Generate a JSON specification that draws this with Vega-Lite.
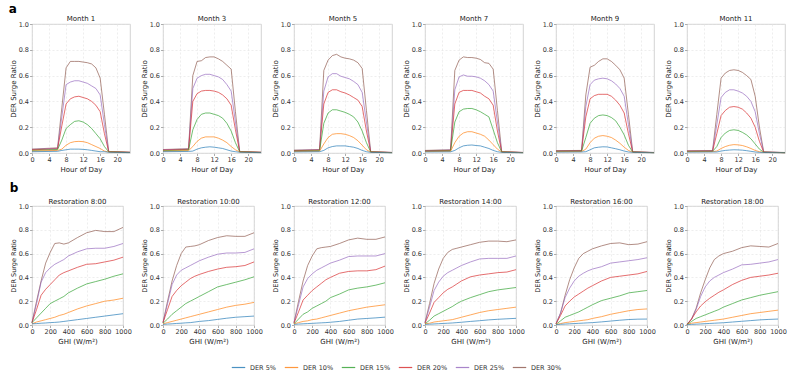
{
"$schema":"https://vega.github.io/schema/vega-lite/v6.json",
"padding":{"left":8,"top":3,"right":5,"bottom":4},
"background":"white",
"config":{
"font":"DejaVu Sans",
"view":{"stroke":"#c8c8c8","strokeWidth":0.8},
"axis":{"labelFontSize":6.5,"titleFontSize":7,"titleFontWeight":"normal","labelColor":"#333","titleColor":"#222","domain":false,"tickSize":2.5,"tickColor":"#777","tickWidth":0.6,"gridColor":"#e2e2e2","gridDash":[2,2],"gridWidth":0.6,"labelPadding":1,"titlePadding":2,"labelFlush":false,"labelOverlap":false,"labelBound":false},
"header":{"labelFontSize":7,"labelPadding":3,"labelColor":"#222"},
"title":{"fontSize":12,"fontWeight":"bold","anchor":"start","frame":"bounds","offset":0,"color":"#000"},
"legend":{"labelFontSize":6.5,"labelColor":"#333"}
},
"datasets":{
"a":[
{"m":1,"s":30,"h":0,"v":0.03},{"m":1,"s":30,"h":6,"v":0.04},{"m":1,"s":30,"h":7,"v":0.35},{"m":1,"s":30,"h":8,"v":0.66},{"m":1,"s":30,"h":9,"v":0.71},{"m":1,"s":30,"h":10,"v":0.71},{"m":1,"s":30,"h":11,"v":0.71},{"m":1,"s":30,"h":12,"v":0.705},{"m":1,"s":30,"h":13,"v":0.7},{"m":1,"s":30,"h":14,"v":0.69},{"m":1,"s":30,"h":15,"v":0.66},{"m":1,"s":30,"h":16,"v":0.58},{"m":1,"s":30,"h":17,"v":0.3},{"m":1,"s":30,"h":18,"v":0.012},{"m":1,"s":30,"h":23,"v":0.006},
{"m":1,"s":25,"h":0,"v":0.028},{"m":1,"s":25,"h":6,"v":0.036},{"m":1,"s":25,"h":7,"v":0.28},{"m":1,"s":25,"h":8,"v":0.53},{"m":1,"s":25,"h":9,"v":0.55},{"m":1,"s":25,"h":10,"v":0.56},{"m":1,"s":25,"h":11,"v":0.56},{"m":1,"s":25,"h":12,"v":0.55},{"m":1,"s":25,"h":13,"v":0.54},{"m":1,"s":25,"h":14,"v":0.52},{"m":1,"s":25,"h":15,"v":0.5},{"m":1,"s":25,"h":16,"v":0.45},{"m":1,"s":25,"h":17,"v":0.22},{"m":1,"s":25,"h":18,"v":0.011},{"m":1,"s":25,"h":23,"v":0.005},
{"m":1,"s":20,"h":0,"v":0.025},{"m":1,"s":20,"h":6,"v":0.032},{"m":1,"s":20,"h":7,"v":0.21},{"m":1,"s":20,"h":8,"v":0.38},{"m":1,"s":20,"h":9,"v":0.42},{"m":1,"s":20,"h":10,"v":0.435},{"m":1,"s":20,"h":11,"v":0.44},{"m":1,"s":20,"h":12,"v":0.43},{"m":1,"s":20,"h":13,"v":0.42},{"m":1,"s":20,"h":14,"v":0.4},{"m":1,"s":20,"h":15,"v":0.37},{"m":1,"s":20,"h":16,"v":0.32},{"m":1,"s":20,"h":17,"v":0.15},{"m":1,"s":20,"h":18,"v":0.01},{"m":1,"s":20,"h":23,"v":0.005},
{"m":1,"s":15,"h":0,"v":0.02},{"m":1,"s":15,"h":6,"v":0.027},{"m":1,"s":15,"h":7,"v":0.1},{"m":1,"s":15,"h":8,"v":0.19},{"m":1,"s":15,"h":9,"v":0.22},{"m":1,"s":15,"h":10,"v":0.245},{"m":1,"s":15,"h":11,"v":0.25},{"m":1,"s":15,"h":12,"v":0.24},{"m":1,"s":15,"h":13,"v":0.22},{"m":1,"s":15,"h":14,"v":0.19},{"m":1,"s":15,"h":15,"v":0.15},{"m":1,"s":15,"h":16,"v":0.11},{"m":1,"s":15,"h":17,"v":0.05},{"m":1,"s":15,"h":18,"v":0.009},{"m":1,"s":15,"h":23,"v":0.004},
{"m":1,"s":10,"h":0,"v":0.015},{"m":1,"s":10,"h":6,"v":0.02},{"m":1,"s":10,"h":7,"v":0.03},{"m":1,"s":10,"h":8,"v":0.06},{"m":1,"s":10,"h":9,"v":0.08},{"m":1,"s":10,"h":10,"v":0.088},{"m":1,"s":10,"h":11,"v":0.09},{"m":1,"s":10,"h":12,"v":0.088},{"m":1,"s":10,"h":13,"v":0.08},{"m":1,"s":10,"h":14,"v":0.065},{"m":1,"s":10,"h":15,"v":0.05},{"m":1,"s":10,"h":16,"v":0.035},{"m":1,"s":10,"h":17,"v":0.015},{"m":1,"s":10,"h":18,"v":0.008},{"m":1,"s":10,"h":23,"v":0.004},
{"m":1,"s":5,"h":0,"v":0.01},{"m":1,"s":5,"h":6,"v":0.013},{"m":1,"s":5,"h":7,"v":0.02},{"m":1,"s":5,"h":8,"v":0.025},{"m":1,"s":5,"h":9,"v":0.03},{"m":1,"s":5,"h":10,"v":0.03},{"m":1,"s":5,"h":11,"v":0.03},{"m":1,"s":5,"h":12,"v":0.028},{"m":1,"s":5,"h":13,"v":0.025},{"m":1,"s":5,"h":14,"v":0.02},{"m":1,"s":5,"h":15,"v":0.015},{"m":1,"s":5,"h":16,"v":0.01},{"m":1,"s":5,"h":17,"v":0.01},{"m":1,"s":5,"h":18,"v":0.006},{"m":1,"s":5,"h":23,"v":0.003},
{"m":3,"s":30,"h":0,"v":0.027},{"m":3,"s":30,"h":6,"v":0.033},{"m":3,"s":30,"h":7,"v":0.6},{"m":3,"s":30,"h":8,"v":0.71},{"m":3,"s":30,"h":9,"v":0.715},{"m":3,"s":30,"h":10,"v":0.74},{"m":3,"s":30,"h":11,"v":0.745},{"m":3,"s":30,"h":12,"v":0.745},{"m":3,"s":30,"h":13,"v":0.73},{"m":3,"s":30,"h":14,"v":0.71},{"m":3,"s":30,"h":15,"v":0.68},{"m":3,"s":30,"h":16,"v":0.65},{"m":3,"s":30,"h":17,"v":0.32},{"m":3,"s":30,"h":18,"v":0.012},{"m":3,"s":30,"h":23,"v":0.006},
{"m":3,"s":25,"h":0,"v":0.025},{"m":3,"s":25,"h":6,"v":0.031},{"m":3,"s":25,"h":7,"v":0.5},{"m":3,"s":25,"h":8,"v":0.58},{"m":3,"s":25,"h":9,"v":0.6},{"m":3,"s":25,"h":10,"v":0.61},{"m":3,"s":25,"h":11,"v":0.61},{"m":3,"s":25,"h":12,"v":0.6},{"m":3,"s":25,"h":13,"v":0.59},{"m":3,"s":25,"h":14,"v":0.57},{"m":3,"s":25,"h":15,"v":0.53},{"m":3,"s":25,"h":16,"v":0.48},{"m":3,"s":25,"h":17,"v":0.24},{"m":3,"s":25,"h":18,"v":0.011},{"m":3,"s":25,"h":23,"v":0.005},
{"m":3,"s":20,"h":0,"v":0.022},{"m":3,"s":20,"h":6,"v":0.028},{"m":3,"s":20,"h":7,"v":0.4},{"m":3,"s":20,"h":8,"v":0.46},{"m":3,"s":20,"h":9,"v":0.48},{"m":3,"s":20,"h":10,"v":0.485},{"m":3,"s":20,"h":11,"v":0.485},{"m":3,"s":20,"h":12,"v":0.48},{"m":3,"s":20,"h":13,"v":0.47},{"m":3,"s":20,"h":14,"v":0.45},{"m":3,"s":20,"h":15,"v":0.42},{"m":3,"s":20,"h":16,"v":0.37},{"m":3,"s":20,"h":17,"v":0.18},{"m":3,"s":20,"h":18,"v":0.01},{"m":3,"s":20,"h":23,"v":0.005},
{"m":3,"s":15,"h":0,"v":0.018},{"m":3,"s":15,"h":6,"v":0.023},{"m":3,"s":15,"h":7,"v":0.18},{"m":3,"s":15,"h":8,"v":0.26},{"m":3,"s":15,"h":9,"v":0.3},{"m":3,"s":15,"h":10,"v":0.31},{"m":3,"s":15,"h":11,"v":0.31},{"m":3,"s":15,"h":12,"v":0.3},{"m":3,"s":15,"h":13,"v":0.29},{"m":3,"s":15,"h":14,"v":0.27},{"m":3,"s":15,"h":15,"v":0.23},{"m":3,"s":15,"h":16,"v":0.17},{"m":3,"s":15,"h":17,"v":0.08},{"m":3,"s":15,"h":18,"v":0.009},{"m":3,"s":15,"h":23,"v":0.004},
{"m":3,"s":10,"h":0,"v":0.014},{"m":3,"s":10,"h":6,"v":0.018},{"m":3,"s":10,"h":7,"v":0.05},{"m":3,"s":10,"h":8,"v":0.09},{"m":3,"s":10,"h":9,"v":0.115},{"m":3,"s":10,"h":10,"v":0.125},{"m":3,"s":10,"h":11,"v":0.125},{"m":3,"s":10,"h":12,"v":0.125},{"m":3,"s":10,"h":13,"v":0.115},{"m":3,"s":10,"h":14,"v":0.1},{"m":3,"s":10,"h":15,"v":0.08},{"m":3,"s":10,"h":16,"v":0.05},{"m":3,"s":10,"h":17,"v":0.025},{"m":3,"s":10,"h":18,"v":0.008},{"m":3,"s":10,"h":23,"v":0.004},
{"m":3,"s":5,"h":0,"v":0.01},{"m":3,"s":5,"h":6,"v":0.012},{"m":3,"s":5,"h":7,"v":0.015},{"m":3,"s":5,"h":8,"v":0.03},{"m":3,"s":5,"h":9,"v":0.04},{"m":3,"s":5,"h":10,"v":0.045},{"m":3,"s":5,"h":11,"v":0.048},{"m":3,"s":5,"h":12,"v":0.045},{"m":3,"s":5,"h":13,"v":0.04},{"m":3,"s":5,"h":14,"v":0.035},{"m":3,"s":5,"h":15,"v":0.025},{"m":3,"s":5,"h":16,"v":0.015},{"m":3,"s":5,"h":17,"v":0.01},{"m":3,"s":5,"h":18,"v":0.006},{"m":3,"s":5,"h":23,"v":0.003},
{"m":5,"s":30,"h":0,"v":0.022},{"m":5,"s":30,"h":6,"v":0.027},{"m":5,"s":30,"h":7,"v":0.64},{"m":5,"s":30,"h":8,"v":0.72},{"m":5,"s":30,"h":9,"v":0.755},{"m":5,"s":30,"h":10,"v":0.765},{"m":5,"s":30,"h":11,"v":0.745},{"m":5,"s":30,"h":12,"v":0.735},{"m":5,"s":30,"h":13,"v":0.73},{"m":5,"s":30,"h":14,"v":0.72},{"m":5,"s":30,"h":15,"v":0.7},{"m":5,"s":30,"h":16,"v":0.655},{"m":5,"s":30,"h":17,"v":0.33},{"m":5,"s":30,"h":18,"v":0.01},{"m":5,"s":30,"h":23,"v":0.004},
{"m":5,"s":25,"h":0,"v":0.02},{"m":5,"s":25,"h":6,"v":0.025},{"m":5,"s":25,"h":7,"v":0.48},{"m":5,"s":25,"h":8,"v":0.59},{"m":5,"s":25,"h":9,"v":0.615},{"m":5,"s":25,"h":10,"v":0.615},{"m":5,"s":25,"h":11,"v":0.595},{"m":5,"s":25,"h":12,"v":0.585},{"m":5,"s":25,"h":13,"v":0.575},{"m":5,"s":25,"h":14,"v":0.555},{"m":5,"s":25,"h":15,"v":0.53},{"m":5,"s":25,"h":16,"v":0.47},{"m":5,"s":25,"h":17,"v":0.24},{"m":5,"s":25,"h":18,"v":0.01},{"m":5,"s":25,"h":23,"v":0.004},
{"m":5,"s":20,"h":0,"v":0.018},{"m":5,"s":20,"h":6,"v":0.022},{"m":5,"s":20,"h":7,"v":0.38},{"m":5,"s":20,"h":8,"v":0.47},{"m":5,"s":20,"h":9,"v":0.49},{"m":5,"s":20,"h":10,"v":0.49},{"m":5,"s":20,"h":11,"v":0.475},{"m":5,"s":20,"h":12,"v":0.465},{"m":5,"s":20,"h":13,"v":0.45},{"m":5,"s":20,"h":14,"v":0.43},{"m":5,"s":20,"h":15,"v":0.41},{"m":5,"s":20,"h":16,"v":0.36},{"m":5,"s":20,"h":17,"v":0.17},{"m":5,"s":20,"h":18,"v":0.009},{"m":5,"s":20,"h":23,"v":0.004},
{"m":5,"s":15,"h":0,"v":0.015},{"m":5,"s":15,"h":6,"v":0.018},{"m":5,"s":15,"h":7,"v":0.23},{"m":5,"s":15,"h":8,"v":0.31},{"m":5,"s":15,"h":9,"v":0.335},{"m":5,"s":15,"h":10,"v":0.335},{"m":5,"s":15,"h":11,"v":0.325},{"m":5,"s":15,"h":12,"v":0.315},{"m":5,"s":15,"h":13,"v":0.3},{"m":5,"s":15,"h":14,"v":0.28},{"m":5,"s":15,"h":15,"v":0.24},{"m":5,"s":15,"h":16,"v":0.17},{"m":5,"s":15,"h":17,"v":0.08},{"m":5,"s":15,"h":18,"v":0.008},{"m":5,"s":15,"h":23,"v":0.003},
{"m":5,"s":10,"h":0,"v":0.012},{"m":5,"s":10,"h":6,"v":0.014},{"m":5,"s":10,"h":7,"v":0.07},{"m":5,"s":10,"h":8,"v":0.12},{"m":5,"s":10,"h":9,"v":0.145},{"m":5,"s":10,"h":10,"v":0.15},{"m":5,"s":10,"h":11,"v":0.15},{"m":5,"s":10,"h":12,"v":0.145},{"m":5,"s":10,"h":13,"v":0.135},{"m":5,"s":10,"h":14,"v":0.12},{"m":5,"s":10,"h":15,"v":0.095},{"m":5,"s":10,"h":16,"v":0.06},{"m":5,"s":10,"h":17,"v":0.025},{"m":5,"s":10,"h":18,"v":0.007},{"m":5,"s":10,"h":23,"v":0.003},
{"m":5,"s":5,"h":0,"v":0.008},{"m":5,"s":5,"h":6,"v":0.01},{"m":5,"s":5,"h":7,"v":0.02},{"m":5,"s":5,"h":8,"v":0.04},{"m":5,"s":5,"h":9,"v":0.05},{"m":5,"s":5,"h":10,"v":0.055},{"m":5,"s":5,"h":11,"v":0.055},{"m":5,"s":5,"h":12,"v":0.055},{"m":5,"s":5,"h":13,"v":0.05},{"m":5,"s":5,"h":14,"v":0.045},{"m":5,"s":5,"h":15,"v":0.035},{"m":5,"s":5,"h":16,"v":0.02},{"m":5,"s":5,"h":17,"v":0.01},{"m":5,"s":5,"h":18,"v":0.005},{"m":5,"s":5,"h":23,"v":0.002},
{"m":7,"s":30,"h":0,"v":0.02},{"m":7,"s":30,"h":6,"v":0.025},{"m":7,"s":30,"h":7,"v":0.64},{"m":7,"s":30,"h":8,"v":0.72},{"m":7,"s":30,"h":9,"v":0.745},{"m":7,"s":30,"h":10,"v":0.74},{"m":7,"s":30,"h":11,"v":0.74},{"m":7,"s":30,"h":12,"v":0.735},{"m":7,"s":30,"h":13,"v":0.725},{"m":7,"s":30,"h":14,"v":0.7},{"m":7,"s":30,"h":15,"v":0.695},{"m":7,"s":30,"h":16,"v":0.65},{"m":7,"s":30,"h":17,"v":0.33},{"m":7,"s":30,"h":18,"v":0.01},{"m":7,"s":30,"h":23,"v":0.004},
{"m":7,"s":25,"h":0,"v":0.018},{"m":7,"s":25,"h":6,"v":0.023},{"m":7,"s":25,"h":7,"v":0.49},{"m":7,"s":25,"h":8,"v":0.59},{"m":7,"s":25,"h":9,"v":0.605},{"m":7,"s":25,"h":10,"v":0.595},{"m":7,"s":25,"h":11,"v":0.595},{"m":7,"s":25,"h":12,"v":0.59},{"m":7,"s":25,"h":13,"v":0.58},{"m":7,"s":25,"h":14,"v":0.56},{"m":7,"s":25,"h":15,"v":0.53},{"m":7,"s":25,"h":16,"v":0.48},{"m":7,"s":25,"h":17,"v":0.24},{"m":7,"s":25,"h":18,"v":0.01},{"m":7,"s":25,"h":23,"v":0.004},
{"m":7,"s":20,"h":0,"v":0.016},{"m":7,"s":20,"h":6,"v":0.02},{"m":7,"s":20,"h":7,"v":0.38},{"m":7,"s":20,"h":8,"v":0.47},{"m":7,"s":20,"h":9,"v":0.485},{"m":7,"s":20,"h":10,"v":0.485},{"m":7,"s":20,"h":11,"v":0.485},{"m":7,"s":20,"h":12,"v":0.475},{"m":7,"s":20,"h":13,"v":0.465},{"m":7,"s":20,"h":14,"v":0.44},{"m":7,"s":20,"h":15,"v":0.42},{"m":7,"s":20,"h":16,"v":0.37},{"m":7,"s":20,"h":17,"v":0.17},{"m":7,"s":20,"h":18,"v":0.009},{"m":7,"s":20,"h":23,"v":0.004},
{"m":7,"s":15,"h":0,"v":0.014},{"m":7,"s":15,"h":6,"v":0.017},{"m":7,"s":15,"h":7,"v":0.24},{"m":7,"s":15,"h":8,"v":0.32},{"m":7,"s":15,"h":9,"v":0.34},{"m":7,"s":15,"h":10,"v":0.345},{"m":7,"s":15,"h":11,"v":0.345},{"m":7,"s":15,"h":12,"v":0.335},{"m":7,"s":15,"h":13,"v":0.32},{"m":7,"s":15,"h":14,"v":0.3},{"m":7,"s":15,"h":15,"v":0.28},{"m":7,"s":15,"h":16,"v":0.18},{"m":7,"s":15,"h":17,"v":0.08},{"m":7,"s":15,"h":18,"v":0.008},{"m":7,"s":15,"h":23,"v":0.003},
{"m":7,"s":10,"h":0,"v":0.011},{"m":7,"s":10,"h":6,"v":0.013},{"m":7,"s":10,"h":7,"v":0.08},{"m":7,"s":10,"h":8,"v":0.13},{"m":7,"s":10,"h":9,"v":0.155},{"m":7,"s":10,"h":10,"v":0.165},{"m":7,"s":10,"h":11,"v":0.165},{"m":7,"s":10,"h":12,"v":0.155},{"m":7,"s":10,"h":13,"v":0.145},{"m":7,"s":10,"h":14,"v":0.13},{"m":7,"s":10,"h":15,"v":0.1},{"m":7,"s":10,"h":16,"v":0.065},{"m":7,"s":10,"h":17,"v":0.03},{"m":7,"s":10,"h":18,"v":0.007},{"m":7,"s":10,"h":23,"v":0.003},
{"m":7,"s":5,"h":0,"v":0.008},{"m":7,"s":5,"h":6,"v":0.009},{"m":7,"s":5,"h":7,"v":0.02},{"m":7,"s":5,"h":8,"v":0.04},{"m":7,"s":5,"h":9,"v":0.055},{"m":7,"s":5,"h":10,"v":0.06},{"m":7,"s":5,"h":11,"v":0.062},{"m":7,"s":5,"h":12,"v":0.058},{"m":7,"s":5,"h":13,"v":0.055},{"m":7,"s":5,"h":14,"v":0.045},{"m":7,"s":5,"h":15,"v":0.035},{"m":7,"s":5,"h":16,"v":0.02},{"m":7,"s":5,"h":17,"v":0.01},{"m":7,"s":5,"h":18,"v":0.005},{"m":7,"s":5,"h":23,"v":0.002},
{"m":9,"s":30,"h":0,"v":0.018},{"m":9,"s":30,"h":6,"v":0.02},{"m":9,"s":30,"h":7,"v":0.45},{"m":9,"s":30,"h":8,"v":0.665},{"m":9,"s":30,"h":9,"v":0.68},{"m":9,"s":30,"h":10,"v":0.71},{"m":9,"s":30,"h":11,"v":0.73},{"m":9,"s":30,"h":12,"v":0.73},{"m":9,"s":30,"h":13,"v":0.71},{"m":9,"s":30,"h":14,"v":0.68},{"m":9,"s":30,"h":15,"v":0.645},{"m":9,"s":30,"h":16,"v":0.58},{"m":9,"s":30,"h":17,"v":0.3},{"m":9,"s":30,"h":18,"v":0.01},{"m":9,"s":30,"h":23,"v":0.004},
{"m":9,"s":25,"h":0,"v":0.016},{"m":9,"s":25,"h":6,"v":0.018},{"m":9,"s":25,"h":7,"v":0.36},{"m":9,"s":25,"h":8,"v":0.53},{"m":9,"s":25,"h":9,"v":0.565},{"m":9,"s":25,"h":10,"v":0.575},{"m":9,"s":25,"h":11,"v":0.58},{"m":9,"s":25,"h":12,"v":0.575},{"m":9,"s":25,"h":13,"v":0.56},{"m":9,"s":25,"h":14,"v":0.535},{"m":9,"s":25,"h":15,"v":0.5},{"m":9,"s":25,"h":16,"v":0.44},{"m":9,"s":25,"h":17,"v":0.22},{"m":9,"s":25,"h":18,"v":0.009},{"m":9,"s":25,"h":23,"v":0.004},
{"m":9,"s":20,"h":0,"v":0.015},{"m":9,"s":20,"h":6,"v":0.017},{"m":9,"s":20,"h":7,"v":0.28},{"m":9,"s":20,"h":8,"v":0.42},{"m":9,"s":20,"h":9,"v":0.445},{"m":9,"s":20,"h":10,"v":0.455},{"m":9,"s":20,"h":11,"v":0.455},{"m":9,"s":20,"h":12,"v":0.455},{"m":9,"s":20,"h":13,"v":0.44},{"m":9,"s":20,"h":14,"v":0.41},{"m":9,"s":20,"h":15,"v":0.37},{"m":9,"s":20,"h":16,"v":0.31},{"m":9,"s":20,"h":17,"v":0.15},{"m":9,"s":20,"h":18,"v":0.008},{"m":9,"s":20,"h":23,"v":0.003},
{"m":9,"s":15,"h":0,"v":0.013},{"m":9,"s":15,"h":6,"v":0.014},{"m":9,"s":15,"h":7,"v":0.12},{"m":9,"s":15,"h":8,"v":0.23},{"m":9,"s":15,"h":9,"v":0.27},{"m":9,"s":15,"h":10,"v":0.29},{"m":9,"s":15,"h":11,"v":0.295},{"m":9,"s":15,"h":12,"v":0.29},{"m":9,"s":15,"h":13,"v":0.275},{"m":9,"s":15,"h":14,"v":0.25},{"m":9,"s":15,"h":15,"v":0.2},{"m":9,"s":15,"h":16,"v":0.14},{"m":9,"s":15,"h":17,"v":0.06},{"m":9,"s":15,"h":18,"v":0.007},{"m":9,"s":15,"h":23,"v":0.003},
{"m":9,"s":10,"h":0,"v":0.01},{"m":9,"s":10,"h":6,"v":0.011},{"m":9,"s":10,"h":7,"v":0.03},{"m":9,"s":10,"h":8,"v":0.08},{"m":9,"s":10,"h":9,"v":0.115},{"m":9,"s":10,"h":10,"v":0.13},{"m":9,"s":10,"h":11,"v":0.135},{"m":9,"s":10,"h":12,"v":0.13},{"m":9,"s":10,"h":13,"v":0.12},{"m":9,"s":10,"h":14,"v":0.1},{"m":9,"s":10,"h":15,"v":0.075},{"m":9,"s":10,"h":16,"v":0.045},{"m":9,"s":10,"h":17,"v":0.02},{"m":9,"s":10,"h":18,"v":0.006},{"m":9,"s":10,"h":23,"v":0.003},
{"m":9,"s":5,"h":0,"v":0.007},{"m":9,"s":5,"h":6,"v":0.008},{"m":9,"s":5,"h":7,"v":0.01},{"m":9,"s":5,"h":8,"v":0.025},{"m":9,"s":5,"h":9,"v":0.04},{"m":9,"s":5,"h":10,"v":0.045},{"m":9,"s":5,"h":11,"v":0.048},{"m":9,"s":5,"h":12,"v":0.047},{"m":9,"s":5,"h":13,"v":0.04},{"m":9,"s":5,"h":14,"v":0.033},{"m":9,"s":5,"h":15,"v":0.025},{"m":9,"s":5,"h":16,"v":0.015},{"m":9,"s":5,"h":17,"v":0.008},{"m":9,"s":5,"h":18,"v":0.005},{"m":9,"s":5,"h":23,"v":0.002},
{"m":11,"s":30,"h":0,"v":0.017},{"m":11,"s":30,"h":6,"v":0.019},{"m":11,"s":30,"h":7,"v":0.3},{"m":11,"s":30,"h":8,"v":0.58},{"m":11,"s":30,"h":9,"v":0.62},{"m":11,"s":30,"h":10,"v":0.64},{"m":11,"s":30,"h":11,"v":0.645},{"m":11,"s":30,"h":12,"v":0.64},{"m":11,"s":30,"h":13,"v":0.625},{"m":11,"s":30,"h":14,"v":0.6},{"m":11,"s":30,"h":15,"v":0.57},{"m":11,"s":30,"h":16,"v":0.44},{"m":11,"s":30,"h":17,"v":0.2},{"m":11,"s":30,"h":18,"v":0.008},{"m":11,"s":30,"h":23,"v":0.004},
{"m":11,"s":25,"h":0,"v":0.015},{"m":11,"s":25,"h":6,"v":0.017},{"m":11,"s":25,"h":7,"v":0.22},{"m":11,"s":25,"h":8,"v":0.43},{"m":11,"s":25,"h":9,"v":0.47},{"m":11,"s":25,"h":10,"v":0.49},{"m":11,"s":25,"h":11,"v":0.49},{"m":11,"s":25,"h":12,"v":0.48},{"m":11,"s":25,"h":13,"v":0.465},{"m":11,"s":25,"h":14,"v":0.44},{"m":11,"s":25,"h":15,"v":0.4},{"m":11,"s":25,"h":16,"v":0.32},{"m":11,"s":25,"h":17,"v":0.15},{"m":11,"s":25,"h":18,"v":0.008},{"m":11,"s":25,"h":23,"v":0.003},
{"m":11,"s":20,"h":0,"v":0.014},{"m":11,"s":20,"h":6,"v":0.015},{"m":11,"s":20,"h":7,"v":0.15},{"m":11,"s":20,"h":8,"v":0.29},{"m":11,"s":20,"h":9,"v":0.33},{"m":11,"s":20,"h":10,"v":0.355},{"m":11,"s":20,"h":11,"v":0.36},{"m":11,"s":20,"h":12,"v":0.355},{"m":11,"s":20,"h":13,"v":0.34},{"m":11,"s":20,"h":14,"v":0.31},{"m":11,"s":20,"h":15,"v":0.27},{"m":11,"s":20,"h":16,"v":0.2},{"m":11,"s":20,"h":17,"v":0.09},{"m":11,"s":20,"h":18,"v":0.007},{"m":11,"s":20,"h":23,"v":0.003},
{"m":11,"s":15,"h":0,"v":0.012},{"m":11,"s":15,"h":6,"v":0.013},{"m":11,"s":15,"h":7,"v":0.05},{"m":11,"s":15,"h":8,"v":0.12},{"m":11,"s":15,"h":9,"v":0.155},{"m":11,"s":15,"h":10,"v":0.175},{"m":11,"s":15,"h":11,"v":0.18},{"m":11,"s":15,"h":12,"v":0.175},{"m":11,"s":15,"h":13,"v":0.16},{"m":11,"s":15,"h":14,"v":0.14},{"m":11,"s":15,"h":15,"v":0.11},{"m":11,"s":15,"h":16,"v":0.07},{"m":11,"s":15,"h":17,"v":0.03},{"m":11,"s":15,"h":18,"v":0.006},{"m":11,"s":15,"h":23,"v":0.003},
{"m":11,"s":10,"h":0,"v":0.01},{"m":11,"s":10,"h":6,"v":0.011},{"m":11,"s":10,"h":7,"v":0.015},{"m":11,"s":10,"h":8,"v":0.035},{"m":11,"s":10,"h":9,"v":0.05},{"m":11,"s":10,"h":10,"v":0.06},{"m":11,"s":10,"h":11,"v":0.065},{"m":11,"s":10,"h":12,"v":0.063},{"m":11,"s":10,"h":13,"v":0.058},{"m":11,"s":10,"h":14,"v":0.048},{"m":11,"s":10,"h":15,"v":0.035},{"m":11,"s":10,"h":16,"v":0.02},{"m":11,"s":10,"h":17,"v":0.01},{"m":11,"s":10,"h":18,"v":0.005},{"m":11,"s":10,"h":23,"v":0.002},
{"m":11,"s":5,"h":0,"v":0.007},{"m":11,"s":5,"h":6,"v":0.008},{"m":11,"s":5,"h":7,"v":0.008},{"m":11,"s":5,"h":8,"v":0.015},{"m":11,"s":5,"h":9,"v":0.02},{"m":11,"s":5,"h":10,"v":0.023},{"m":11,"s":5,"h":11,"v":0.025},{"m":11,"s":5,"h":12,"v":0.024},{"m":11,"s":5,"h":13,"v":0.022},{"m":11,"s":5,"h":14,"v":0.018},{"m":11,"s":5,"h":15,"v":0.013},{"m":11,"s":5,"h":16,"v":0.008},{"m":11,"s":5,"h":17,"v":0.005},{"m":11,"s":5,"h":18,"v":0.004},{"m":11,"s":5,"h":23,"v":0.002}
],
"b":[
{"r":8,"s":30,"g":0,"v":0.02},{"r":8,"s":30,"g":50,"v":0.2},{"r":8,"s":30,"g":100,"v":0.37},{"r":8,"s":30,"g":150,"v":0.52},{"r":8,"s":30,"g":200,"v":0.61},{"r":8,"s":30,"g":250,"v":0.685},{"r":8,"s":30,"g":300,"v":0.69},{"r":8,"s":30,"g":350,"v":0.68},{"r":8,"s":30,"g":400,"v":0.69},{"r":8,"s":30,"g":500,"v":0.735},{"r":8,"s":30,"g":600,"v":0.775},{"r":8,"s":30,"g":700,"v":0.795},{"r":8,"s":30,"g":800,"v":0.785},{"r":8,"s":30,"g":900,"v":0.785},{"r":8,"s":30,"g":1000,"v":0.82},
{"r":8,"s":25,"g":0,"v":0.02},{"r":8,"s":25,"g":50,"v":0.18},{"r":8,"s":25,"g":100,"v":0.36},{"r":8,"s":25,"g":150,"v":0.44},{"r":8,"s":25,"g":200,"v":0.48},{"r":8,"s":25,"g":250,"v":0.51},{"r":8,"s":25,"g":300,"v":0.53},{"r":8,"s":25,"g":350,"v":0.55},{"r":8,"s":25,"g":400,"v":0.58},{"r":8,"s":25,"g":500,"v":0.615},{"r":8,"s":25,"g":600,"v":0.64},{"r":8,"s":25,"g":700,"v":0.645},{"r":8,"s":25,"g":800,"v":0.645},{"r":8,"s":25,"g":900,"v":0.66},{"r":8,"s":25,"g":1000,"v":0.685},
{"r":8,"s":20,"g":0,"v":0.02},{"r":8,"s":20,"g":50,"v":0.13},{"r":8,"s":20,"g":100,"v":0.25},{"r":8,"s":20,"g":150,"v":0.3},{"r":8,"s":20,"g":200,"v":0.34},{"r":8,"s":20,"g":250,"v":0.38},{"r":8,"s":20,"g":300,"v":0.42},{"r":8,"s":20,"g":350,"v":0.44},{"r":8,"s":20,"g":400,"v":0.455},{"r":8,"s":20,"g":500,"v":0.485},{"r":8,"s":20,"g":600,"v":0.51},{"r":8,"s":20,"g":700,"v":0.515},{"r":8,"s":20,"g":800,"v":0.53},{"r":8,"s":20,"g":900,"v":0.545},{"r":8,"s":20,"g":1000,"v":0.57},
{"r":8,"s":15,"g":0,"v":0.02},{"r":8,"s":15,"g":50,"v":0.06},{"r":8,"s":15,"g":100,"v":0.1},{"r":8,"s":15,"g":150,"v":0.14},{"r":8,"s":15,"g":200,"v":0.18},{"r":8,"s":15,"g":250,"v":0.2},{"r":8,"s":15,"g":300,"v":0.22},{"r":8,"s":15,"g":350,"v":0.24},{"r":8,"s":15,"g":400,"v":0.27},{"r":8,"s":15,"g":500,"v":0.31},{"r":8,"s":15,"g":600,"v":0.345},{"r":8,"s":15,"g":700,"v":0.365},{"r":8,"s":15,"g":800,"v":0.385},{"r":8,"s":15,"g":900,"v":0.41},{"r":8,"s":15,"g":1000,"v":0.43},
{"r":8,"s":10,"g":0,"v":0.01},{"r":8,"s":10,"g":50,"v":0.025},{"r":8,"s":10,"g":100,"v":0.035},{"r":8,"s":10,"g":150,"v":0.045},{"r":8,"s":10,"g":200,"v":0.055},{"r":8,"s":10,"g":250,"v":0.065},{"r":8,"s":10,"g":300,"v":0.08},{"r":8,"s":10,"g":350,"v":0.09},{"r":8,"s":10,"g":400,"v":0.105},{"r":8,"s":10,"g":500,"v":0.135},{"r":8,"s":10,"g":600,"v":0.16},{"r":8,"s":10,"g":700,"v":0.18},{"r":8,"s":10,"g":800,"v":0.2},{"r":8,"s":10,"g":900,"v":0.21},{"r":8,"s":10,"g":1000,"v":0.225},
{"r":8,"s":5,"g":0,"v":0.01},{"r":8,"s":5,"g":50,"v":0.012},{"r":8,"s":5,"g":100,"v":0.015},{"r":8,"s":5,"g":150,"v":0.017},{"r":8,"s":5,"g":200,"v":0.02},{"r":8,"s":5,"g":250,"v":0.022},{"r":8,"s":5,"g":300,"v":0.025},{"r":8,"s":5,"g":350,"v":0.03},{"r":8,"s":5,"g":400,"v":0.035},{"r":8,"s":5,"g":500,"v":0.045},{"r":8,"s":5,"g":600,"v":0.055},{"r":8,"s":5,"g":700,"v":0.065},{"r":8,"s":5,"g":800,"v":0.075},{"r":8,"s":5,"g":900,"v":0.085},{"r":8,"s":5,"g":1000,"v":0.095},
{"r":10,"s":30,"g":0,"v":0.02},{"r":10,"s":30,"g":50,"v":0.2},{"r":10,"s":30,"g":100,"v":0.37},{"r":10,"s":30,"g":150,"v":0.5},{"r":10,"s":30,"g":200,"v":0.6},{"r":10,"s":30,"g":250,"v":0.655},{"r":10,"s":30,"g":300,"v":0.66},{"r":10,"s":30,"g":350,"v":0.665},{"r":10,"s":30,"g":400,"v":0.675},{"r":10,"s":30,"g":500,"v":0.71},{"r":10,"s":30,"g":600,"v":0.735},{"r":10,"s":30,"g":700,"v":0.75},{"r":10,"s":30,"g":800,"v":0.745},{"r":10,"s":30,"g":900,"v":0.745},{"r":10,"s":30,"g":1000,"v":0.775},
{"r":10,"s":25,"g":0,"v":0.02},{"r":10,"s":25,"g":50,"v":0.18},{"r":10,"s":25,"g":100,"v":0.34},{"r":10,"s":25,"g":150,"v":0.42},{"r":10,"s":25,"g":200,"v":0.46},{"r":10,"s":25,"g":250,"v":0.48},{"r":10,"s":25,"g":300,"v":0.5},{"r":10,"s":25,"g":350,"v":0.52},{"r":10,"s":25,"g":400,"v":0.54},{"r":10,"s":25,"g":500,"v":0.57},{"r":10,"s":25,"g":600,"v":0.595},{"r":10,"s":25,"g":700,"v":0.605},{"r":10,"s":25,"g":800,"v":0.605},{"r":10,"s":25,"g":900,"v":0.61},{"r":10,"s":25,"g":1000,"v":0.64},
{"r":10,"s":20,"g":0,"v":0.02},{"r":10,"s":20,"g":50,"v":0.13},{"r":10,"s":20,"g":100,"v":0.24},{"r":10,"s":20,"g":150,"v":0.29},{"r":10,"s":20,"g":200,"v":0.33},{"r":10,"s":20,"g":250,"v":0.36},{"r":10,"s":20,"g":300,"v":0.39},{"r":10,"s":20,"g":350,"v":0.41},{"r":10,"s":20,"g":400,"v":0.425},{"r":10,"s":20,"g":500,"v":0.45},{"r":10,"s":20,"g":600,"v":0.47},{"r":10,"s":20,"g":700,"v":0.485},{"r":10,"s":20,"g":800,"v":0.49},{"r":10,"s":20,"g":900,"v":0.5},{"r":10,"s":20,"g":1000,"v":0.53},
{"r":10,"s":15,"g":0,"v":0.015},{"r":10,"s":15,"g":50,"v":0.05},{"r":10,"s":15,"g":100,"v":0.09},{"r":10,"s":15,"g":150,"v":0.12},{"r":10,"s":15,"g":200,"v":0.15},{"r":10,"s":15,"g":250,"v":0.18},{"r":10,"s":15,"g":300,"v":0.2},{"r":10,"s":15,"g":350,"v":0.22},{"r":10,"s":15,"g":400,"v":0.24},{"r":10,"s":15,"g":500,"v":0.28},{"r":10,"s":15,"g":600,"v":0.32},{"r":10,"s":15,"g":700,"v":0.34},{"r":10,"s":15,"g":800,"v":0.36},{"r":10,"s":15,"g":900,"v":0.38},{"r":10,"s":15,"g":1000,"v":0.405},
{"r":10,"s":10,"g":0,"v":0.01},{"r":10,"s":10,"g":50,"v":0.02},{"r":10,"s":10,"g":100,"v":0.03},{"r":10,"s":10,"g":150,"v":0.04},{"r":10,"s":10,"g":200,"v":0.05},{"r":10,"s":10,"g":250,"v":0.06},{"r":10,"s":10,"g":300,"v":0.07},{"r":10,"s":10,"g":350,"v":0.08},{"r":10,"s":10,"g":400,"v":0.09},{"r":10,"s":10,"g":500,"v":0.11},{"r":10,"s":10,"g":600,"v":0.13},{"r":10,"s":10,"g":700,"v":0.15},{"r":10,"s":10,"g":800,"v":0.165},{"r":10,"s":10,"g":900,"v":0.175},{"r":10,"s":10,"g":1000,"v":0.19},
{"r":10,"s":5,"g":0,"v":0.005},{"r":10,"s":5,"g":50,"v":0.008},{"r":10,"s":5,"g":100,"v":0.01},{"r":10,"s":5,"g":150,"v":0.013},{"r":10,"s":5,"g":200,"v":0.015},{"r":10,"s":5,"g":250,"v":0.018},{"r":10,"s":5,"g":300,"v":0.02},{"r":10,"s":5,"g":350,"v":0.025},{"r":10,"s":5,"g":400,"v":0.03},{"r":10,"s":5,"g":500,"v":0.037},{"r":10,"s":5,"g":600,"v":0.047},{"r":10,"s":5,"g":700,"v":0.057},{"r":10,"s":5,"g":800,"v":0.065},{"r":10,"s":5,"g":900,"v":0.07},{"r":10,"s":5,"g":1000,"v":0.075},
{"r":12,"s":30,"g":0,"v":0.02},{"r":12,"s":30,"g":50,"v":0.2},{"r":12,"s":30,"g":100,"v":0.37},{"r":12,"s":30,"g":150,"v":0.5},{"r":12,"s":30,"g":200,"v":0.58},{"r":12,"s":30,"g":250,"v":0.64},{"r":12,"s":30,"g":300,"v":0.65},{"r":12,"s":30,"g":350,"v":0.655},{"r":12,"s":30,"g":400,"v":0.66},{"r":12,"s":30,"g":500,"v":0.685},{"r":12,"s":30,"g":600,"v":0.715},{"r":12,"s":30,"g":700,"v":0.73},{"r":12,"s":30,"g":800,"v":0.72},{"r":12,"s":30,"g":900,"v":0.72},{"r":12,"s":30,"g":1000,"v":0.74},
{"r":12,"s":25,"g":0,"v":0.02},{"r":12,"s":25,"g":50,"v":0.17},{"r":12,"s":25,"g":100,"v":0.32},{"r":12,"s":25,"g":150,"v":0.39},{"r":12,"s":25,"g":200,"v":0.43},{"r":12,"s":25,"g":250,"v":0.46},{"r":12,"s":25,"g":300,"v":0.48},{"r":12,"s":25,"g":350,"v":0.5},{"r":12,"s":25,"g":400,"v":0.52},{"r":12,"s":25,"g":500,"v":0.545},{"r":12,"s":25,"g":600,"v":0.575},{"r":12,"s":25,"g":700,"v":0.58},{"r":12,"s":25,"g":800,"v":0.58},{"r":12,"s":25,"g":900,"v":0.58},{"r":12,"s":25,"g":1000,"v":0.6},
{"r":12,"s":20,"g":0,"v":0.015},{"r":12,"s":20,"g":50,"v":0.11},{"r":12,"s":20,"g":100,"v":0.21},{"r":12,"s":20,"g":150,"v":0.25},{"r":12,"s":20,"g":200,"v":0.29},{"r":12,"s":20,"g":250,"v":0.32},{"r":12,"s":20,"g":300,"v":0.35},{"r":12,"s":20,"g":350,"v":0.38},{"r":12,"s":20,"g":400,"v":0.4},{"r":12,"s":20,"g":500,"v":0.435},{"r":12,"s":20,"g":600,"v":0.45},{"r":12,"s":20,"g":700,"v":0.455},{"r":12,"s":20,"g":800,"v":0.455},{"r":12,"s":20,"g":900,"v":0.465},{"r":12,"s":20,"g":1000,"v":0.495},
{"r":12,"s":15,"g":0,"v":0.01},{"r":12,"s":15,"g":50,"v":0.05},{"r":12,"s":15,"g":100,"v":0.09},{"r":12,"s":15,"g":150,"v":0.11},{"r":12,"s":15,"g":200,"v":0.14},{"r":12,"s":15,"g":250,"v":0.16},{"r":12,"s":15,"g":300,"v":0.18},{"r":12,"s":15,"g":350,"v":0.2},{"r":12,"s":15,"g":400,"v":0.23},{"r":12,"s":15,"g":500,"v":0.26},{"r":12,"s":15,"g":600,"v":0.295},{"r":12,"s":15,"g":700,"v":0.31},{"r":12,"s":15,"g":800,"v":0.32},{"r":12,"s":15,"g":900,"v":0.335},{"r":12,"s":15,"g":1000,"v":0.355},
{"r":12,"s":10,"g":0,"v":0.01},{"r":12,"s":10,"g":50,"v":0.02},{"r":12,"s":10,"g":100,"v":0.03},{"r":12,"s":10,"g":150,"v":0.035},{"r":12,"s":10,"g":200,"v":0.045},{"r":12,"s":10,"g":250,"v":0.05},{"r":12,"s":10,"g":300,"v":0.06},{"r":12,"s":10,"g":350,"v":0.07},{"r":12,"s":10,"g":400,"v":0.08},{"r":12,"s":10,"g":500,"v":0.1},{"r":12,"s":10,"g":600,"v":0.12},{"r":12,"s":10,"g":700,"v":0.135},{"r":12,"s":10,"g":800,"v":0.15},{"r":12,"s":10,"g":900,"v":0.16},{"r":12,"s":10,"g":1000,"v":0.17},
{"r":12,"s":5,"g":0,"v":0.005},{"r":12,"s":5,"g":50,"v":0.008},{"r":12,"s":5,"g":100,"v":0.01},{"r":12,"s":5,"g":150,"v":0.012},{"r":12,"s":5,"g":200,"v":0.014},{"r":12,"s":5,"g":250,"v":0.016},{"r":12,"s":5,"g":300,"v":0.018},{"r":12,"s":5,"g":350,"v":0.02},{"r":12,"s":5,"g":400,"v":0.023},{"r":12,"s":5,"g":500,"v":0.03},{"r":12,"s":5,"g":600,"v":0.04},{"r":12,"s":5,"g":700,"v":0.05},{"r":12,"s":5,"g":800,"v":0.055},{"r":12,"s":5,"g":900,"v":0.06},{"r":12,"s":5,"g":1000,"v":0.066},
{"r":14,"s":30,"g":0,"v":0.02},{"r":14,"s":30,"g":50,"v":0.18},{"r":14,"s":30,"g":100,"v":0.35},{"r":14,"s":30,"g":150,"v":0.47},{"r":14,"s":30,"g":200,"v":0.56},{"r":14,"s":30,"g":250,"v":0.61},{"r":14,"s":30,"g":300,"v":0.635},{"r":14,"s":30,"g":350,"v":0.645},{"r":14,"s":30,"g":400,"v":0.655},{"r":14,"s":30,"g":500,"v":0.675},{"r":14,"s":30,"g":600,"v":0.695},{"r":14,"s":30,"g":700,"v":0.705},{"r":14,"s":30,"g":800,"v":0.705},{"r":14,"s":30,"g":900,"v":0.7},{"r":14,"s":30,"g":1000,"v":0.715},
{"r":14,"s":25,"g":0,"v":0.02},{"r":14,"s":25,"g":50,"v":0.15},{"r":14,"s":25,"g":100,"v":0.29},{"r":14,"s":25,"g":150,"v":0.36},{"r":14,"s":25,"g":200,"v":0.41},{"r":14,"s":25,"g":250,"v":0.44},{"r":14,"s":25,"g":300,"v":0.46},{"r":14,"s":25,"g":350,"v":0.48},{"r":14,"s":25,"g":400,"v":0.5},{"r":14,"s":25,"g":500,"v":0.53},{"r":14,"s":25,"g":600,"v":0.555},{"r":14,"s":25,"g":700,"v":0.56},{"r":14,"s":25,"g":800,"v":0.56},{"r":14,"s":25,"g":900,"v":0.56},{"r":14,"s":25,"g":1000,"v":0.58},
{"r":14,"s":20,"g":0,"v":0.015},{"r":14,"s":20,"g":50,"v":0.1},{"r":14,"s":20,"g":100,"v":0.19},{"r":14,"s":20,"g":150,"v":0.23},{"r":14,"s":20,"g":200,"v":0.27},{"r":14,"s":20,"g":250,"v":0.3},{"r":14,"s":20,"g":300,"v":0.32},{"r":14,"s":20,"g":350,"v":0.345},{"r":14,"s":20,"g":400,"v":0.37},{"r":14,"s":20,"g":500,"v":0.405},{"r":14,"s":20,"g":600,"v":0.42},{"r":14,"s":20,"g":700,"v":0.43},{"r":14,"s":20,"g":800,"v":0.44},{"r":14,"s":20,"g":900,"v":0.445},{"r":14,"s":20,"g":1000,"v":0.465},
{"r":14,"s":15,"g":0,"v":0.01},{"r":14,"s":15,"g":50,"v":0.04},{"r":14,"s":15,"g":100,"v":0.075},{"r":14,"s":15,"g":150,"v":0.095},{"r":14,"s":15,"g":200,"v":0.115},{"r":14,"s":15,"g":250,"v":0.135},{"r":14,"s":15,"g":300,"v":0.155},{"r":14,"s":15,"g":350,"v":0.18},{"r":14,"s":15,"g":400,"v":0.2},{"r":14,"s":15,"g":500,"v":0.23},{"r":14,"s":15,"g":600,"v":0.255},{"r":14,"s":15,"g":700,"v":0.28},{"r":14,"s":15,"g":800,"v":0.295},{"r":14,"s":15,"g":900,"v":0.305},{"r":14,"s":15,"g":1000,"v":0.315},
{"r":14,"s":10,"g":0,"v":0.01},{"r":14,"s":10,"g":50,"v":0.015},{"r":14,"s":10,"g":100,"v":0.025},{"r":14,"s":10,"g":150,"v":0.03},{"r":14,"s":10,"g":200,"v":0.035},{"r":14,"s":10,"g":250,"v":0.04},{"r":14,"s":10,"g":300,"v":0.045},{"r":14,"s":10,"g":350,"v":0.055},{"r":14,"s":10,"g":400,"v":0.065},{"r":14,"s":10,"g":500,"v":0.085},{"r":14,"s":10,"g":600,"v":0.105},{"r":14,"s":10,"g":700,"v":0.12},{"r":14,"s":10,"g":800,"v":0.13},{"r":14,"s":10,"g":900,"v":0.14},{"r":14,"s":10,"g":1000,"v":0.15},
{"r":14,"s":5,"g":0,"v":0.005},{"r":14,"s":5,"g":50,"v":0.007},{"r":14,"s":5,"g":100,"v":0.009},{"r":14,"s":5,"g":150,"v":0.011},{"r":14,"s":5,"g":200,"v":0.013},{"r":14,"s":5,"g":250,"v":0.015},{"r":14,"s":5,"g":300,"v":0.017},{"r":14,"s":5,"g":350,"v":0.02},{"r":14,"s":5,"g":400,"v":0.023},{"r":14,"s":5,"g":500,"v":0.03},{"r":14,"s":5,"g":600,"v":0.036},{"r":14,"s":5,"g":700,"v":0.043},{"r":14,"s":5,"g":800,"v":0.048},{"r":14,"s":5,"g":900,"v":0.052},{"r":14,"s":5,"g":1000,"v":0.056},
{"r":16,"s":30,"g":0,"v":0.01},{"r":16,"s":30,"g":50,"v":0.1},{"r":16,"s":30,"g":100,"v":0.25},{"r":16,"s":30,"g":150,"v":0.38},{"r":16,"s":30,"g":200,"v":0.48},{"r":16,"s":30,"g":250,"v":0.56},{"r":16,"s":30,"g":300,"v":0.6},{"r":16,"s":30,"g":350,"v":0.62},{"r":16,"s":30,"g":400,"v":0.64},{"r":16,"s":30,"g":500,"v":0.665},{"r":16,"s":30,"g":600,"v":0.685},{"r":16,"s":30,"g":700,"v":0.69},{"r":16,"s":30,"g":800,"v":0.675},{"r":16,"s":30,"g":900,"v":0.68},{"r":16,"s":30,"g":1000,"v":0.7},
{"r":16,"s":25,"g":0,"v":0.01},{"r":16,"s":25,"g":50,"v":0.1},{"r":16,"s":25,"g":100,"v":0.23},{"r":16,"s":25,"g":150,"v":0.31},{"r":16,"s":25,"g":200,"v":0.37},{"r":16,"s":25,"g":250,"v":0.41},{"r":16,"s":25,"g":300,"v":0.435},{"r":16,"s":25,"g":350,"v":0.455},{"r":16,"s":25,"g":400,"v":0.47},{"r":16,"s":25,"g":500,"v":0.49},{"r":16,"s":25,"g":600,"v":0.52},{"r":16,"s":25,"g":700,"v":0.53},{"r":16,"s":25,"g":800,"v":0.54},{"r":16,"s":25,"g":900,"v":0.55},{"r":16,"s":25,"g":1000,"v":0.565},
{"r":16,"s":20,"g":0,"v":0.01},{"r":16,"s":20,"g":50,"v":0.08},{"r":16,"s":20,"g":100,"v":0.16},{"r":16,"s":20,"g":150,"v":0.2},{"r":16,"s":20,"g":200,"v":0.235},{"r":16,"s":20,"g":250,"v":0.26},{"r":16,"s":20,"g":300,"v":0.285},{"r":16,"s":20,"g":350,"v":0.31},{"r":16,"s":20,"g":400,"v":0.33},{"r":16,"s":20,"g":500,"v":0.37},{"r":16,"s":20,"g":600,"v":0.4},{"r":16,"s":20,"g":700,"v":0.41},{"r":16,"s":20,"g":800,"v":0.42},{"r":16,"s":20,"g":900,"v":0.43},{"r":16,"s":20,"g":1000,"v":0.45},
{"r":16,"s":15,"g":0,"v":0.005},{"r":16,"s":15,"g":50,"v":0.035},{"r":16,"s":15,"g":100,"v":0.065},{"r":16,"s":15,"g":150,"v":0.08},{"r":16,"s":15,"g":200,"v":0.095},{"r":16,"s":15,"g":250,"v":0.11},{"r":16,"s":15,"g":300,"v":0.13},{"r":16,"s":15,"g":350,"v":0.15},{"r":16,"s":15,"g":400,"v":0.17},{"r":16,"s":15,"g":500,"v":0.205},{"r":16,"s":15,"g":600,"v":0.225},{"r":16,"s":15,"g":700,"v":0.245},{"r":16,"s":15,"g":800,"v":0.27},{"r":16,"s":15,"g":900,"v":0.28},{"r":16,"s":15,"g":1000,"v":0.29},
{"r":16,"s":10,"g":0,"v":0.005},{"r":16,"s":10,"g":50,"v":0.012},{"r":16,"s":10,"g":100,"v":0.02},{"r":16,"s":10,"g":150,"v":0.025},{"r":16,"s":10,"g":200,"v":0.03},{"r":16,"s":10,"g":250,"v":0.035},{"r":16,"s":10,"g":300,"v":0.04},{"r":16,"s":10,"g":350,"v":0.045},{"r":16,"s":10,"g":400,"v":0.055},{"r":16,"s":10,"g":500,"v":0.07},{"r":16,"s":10,"g":600,"v":0.09},{"r":16,"s":10,"g":700,"v":0.105},{"r":16,"s":10,"g":800,"v":0.12},{"r":16,"s":10,"g":900,"v":0.13},{"r":16,"s":10,"g":1000,"v":0.135},
{"r":16,"s":5,"g":0,"v":0.003},{"r":16,"s":5,"g":50,"v":0.006},{"r":16,"s":5,"g":100,"v":0.008},{"r":16,"s":5,"g":150,"v":0.01},{"r":16,"s":5,"g":200,"v":0.012},{"r":16,"s":5,"g":250,"v":0.014},{"r":16,"s":5,"g":300,"v":0.016},{"r":16,"s":5,"g":350,"v":0.018},{"r":16,"s":5,"g":400,"v":0.02},{"r":16,"s":5,"g":500,"v":0.026},{"r":16,"s":5,"g":600,"v":0.033},{"r":16,"s":5,"g":700,"v":0.04},{"r":16,"s":5,"g":800,"v":0.046},{"r":16,"s":5,"g":900,"v":0.049},{"r":16,"s":5,"g":1000,"v":0.05},
{"r":18,"s":30,"g":0,"v":0.005},{"r":18,"s":30,"g":50,"v":0.05},{"r":18,"s":30,"g":100,"v":0.14},{"r":18,"s":30,"g":150,"v":0.27},{"r":18,"s":30,"g":200,"v":0.38},{"r":18,"s":30,"g":250,"v":0.48},{"r":18,"s":30,"g":300,"v":0.55},{"r":18,"s":30,"g":350,"v":0.58},{"r":18,"s":30,"g":400,"v":0.6},{"r":18,"s":30,"g":500,"v":0.62},{"r":18,"s":30,"g":600,"v":0.65},{"r":18,"s":30,"g":700,"v":0.665},{"r":18,"s":30,"g":800,"v":0.66},{"r":18,"s":30,"g":900,"v":0.655},{"r":18,"s":30,"g":1000,"v":0.685},
{"r":18,"s":25,"g":0,"v":0.005},{"r":18,"s":25,"g":50,"v":0.05},{"r":18,"s":25,"g":100,"v":0.13},{"r":18,"s":25,"g":150,"v":0.24},{"r":18,"s":25,"g":200,"v":0.32},{"r":18,"s":25,"g":250,"v":0.37},{"r":18,"s":25,"g":300,"v":0.4},{"r":18,"s":25,"g":350,"v":0.42},{"r":18,"s":25,"g":400,"v":0.44},{"r":18,"s":25,"g":500,"v":0.47},{"r":18,"s":25,"g":600,"v":0.505},{"r":18,"s":25,"g":700,"v":0.51},{"r":18,"s":25,"g":800,"v":0.52},{"r":18,"s":25,"g":900,"v":0.53},{"r":18,"s":25,"g":1000,"v":0.55},
{"r":18,"s":20,"g":0,"v":0.005},{"r":18,"s":20,"g":50,"v":0.05},{"r":18,"s":20,"g":100,"v":0.11},{"r":18,"s":20,"g":150,"v":0.16},{"r":18,"s":20,"g":200,"v":0.195},{"r":18,"s":20,"g":250,"v":0.225},{"r":18,"s":20,"g":300,"v":0.25},{"r":18,"s":20,"g":350,"v":0.275},{"r":18,"s":20,"g":400,"v":0.295},{"r":18,"s":20,"g":500,"v":0.34},{"r":18,"s":20,"g":600,"v":0.375},{"r":18,"s":20,"g":700,"v":0.4},{"r":18,"s":20,"g":800,"v":0.41},{"r":18,"s":20,"g":900,"v":0.42},{"r":18,"s":20,"g":1000,"v":0.435},
{"r":18,"s":15,"g":0,"v":0.005},{"r":18,"s":15,"g":50,"v":0.03},{"r":18,"s":15,"g":100,"v":0.055},{"r":18,"s":15,"g":150,"v":0.07},{"r":18,"s":15,"g":200,"v":0.085},{"r":18,"s":15,"g":250,"v":0.1},{"r":18,"s":15,"g":300,"v":0.115},{"r":18,"s":15,"g":350,"v":0.13},{"r":18,"s":15,"g":400,"v":0.15},{"r":18,"s":15,"g":500,"v":0.18},{"r":18,"s":15,"g":600,"v":0.21},{"r":18,"s":15,"g":700,"v":0.23},{"r":18,"s":15,"g":800,"v":0.25},{"r":18,"s":15,"g":900,"v":0.265},{"r":18,"s":15,"g":1000,"v":0.28},
{"r":18,"s":10,"g":0,"v":0.005},{"r":18,"s":10,"g":50,"v":0.015},{"r":18,"s":10,"g":100,"v":0.02},{"r":18,"s":10,"g":150,"v":0.025},{"r":18,"s":10,"g":200,"v":0.03},{"r":18,"s":10,"g":250,"v":0.035},{"r":18,"s":10,"g":300,"v":0.04},{"r":18,"s":10,"g":350,"v":0.045},{"r":18,"s":10,"g":400,"v":0.05},{"r":18,"s":10,"g":500,"v":0.065},{"r":18,"s":10,"g":600,"v":0.08},{"r":18,"s":10,"g":700,"v":0.095},{"r":18,"s":10,"g":800,"v":0.105},{"r":18,"s":10,"g":900,"v":0.115},{"r":18,"s":10,"g":1000,"v":0.125},
{"r":18,"s":5,"g":0,"v":0.003},{"r":18,"s":5,"g":50,"v":0.005},{"r":18,"s":5,"g":100,"v":0.007},{"r":18,"s":5,"g":150,"v":0.009},{"r":18,"s":5,"g":200,"v":0.011},{"r":18,"s":5,"g":250,"v":0.013},{"r":18,"s":5,"g":300,"v":0.015},{"r":18,"s":5,"g":350,"v":0.017},{"r":18,"s":5,"g":400,"v":0.019},{"r":18,"s":5,"g":500,"v":0.025},{"r":18,"s":5,"g":600,"v":0.031},{"r":18,"s":5,"g":700,"v":0.037},{"r":18,"s":5,"g":800,"v":0.043},{"r":18,"s":5,"g":900,"v":0.047},{"r":18,"s":5,"g":1000,"v":0.05}
]
},
"spacing":10,
"vconcat":[
{
"data":{"name":"a"},
"title":{"text":"a","offset":-1},
"facet":{"column":{"field":"m","type":"ordinal","title":null,"header":{"labelExpr":"'Month ' + datum.value","labelPadding":2}}},
"spacing":33,
"bounds":"flush",
"resolve":{"axis":{"y":"independent"}},
"spec":{
"width":98,"height":129,
"mark":{"type":"line","strokeWidth":0.9,"opacity":0.75},
"encoding":{
"x":{"field":"h","type":"quantitative","scale":{"domain":[0,23],"nice":false},"axis":{"values":[0,4,8,12,16,20],"title":"Hour of Day"}},
"y":{"field":"v","type":"quantitative","scale":{"domain":[0,1]},"axis":{"values":[0,0.2,0.4,0.6,0.8,1],"format":".1f","title":"DER Surge Ratio"}},
"color":{"field":"s","type":"nominal","sort":[5,10,15,20,25,30],"scale":{"domain":[5,10,15,20,25,30],"range":["#1f77b4","#ff7f0e","#2ca02c","#d62728","#9467bd","#8c564b"]},"legend":{"title":null,"orient":"none","direction":"horizontal","legendX":199,"legendY":336,"symbolType":"stroke","symbolSize":180,"symbolStrokeWidth":1.2,"symbolOpacity":0.8,"labelExpr":"'DER ' + datum.label + '%'","columnPadding":5,"labelOffset":4}}
}
}
},
{
"data":{"name":"b"},
"title":{"text":"b","offset":3},
"facet":{"column":{"field":"r","type":"ordinal","title":null,"header":{"labelExpr":"'Restoration ' + datum.value + ':00'","labelPadding":1}}},
"spacing":40,
"bounds":"flush",
"resolve":{"axis":{"y":"independent"}},
"spec":{
"width":91,"height":119,
"mark":{"type":"line","strokeWidth":0.9,"opacity":0.75},
"encoding":{
"x":{"field":"g","type":"quantitative","scale":{"domain":[0,1000],"nice":false},"axis":{"values":[0,200,400,600,800,1000],"format":"d","title":"GHI (W/m²)"}},
"y":{"field":"v","type":"quantitative","scale":{"domain":[0,1]},"axis":{"values":[0,0.2,0.4,0.6,0.8,1],"format":".1f","title":"DER Surge Ratio","titleFontSize":6.5}},
"color":{"field":"s","type":"nominal","sort":[5,10,15,20,25,30],"scale":{"domain":[5,10,15,20,25,30],"range":["#1f77b4","#ff7f0e","#2ca02c","#d62728","#9467bd","#8c564b"]},"legend":{"title":null,"orient":"none","direction":"horizontal","legendX":199,"legendY":336,"symbolType":"stroke","symbolSize":180,"symbolStrokeWidth":1.2,"symbolOpacity":0.8,"labelExpr":"'DER ' + datum.label + '%'","columnPadding":5,"labelOffset":4}}
}
}
}
]
}
